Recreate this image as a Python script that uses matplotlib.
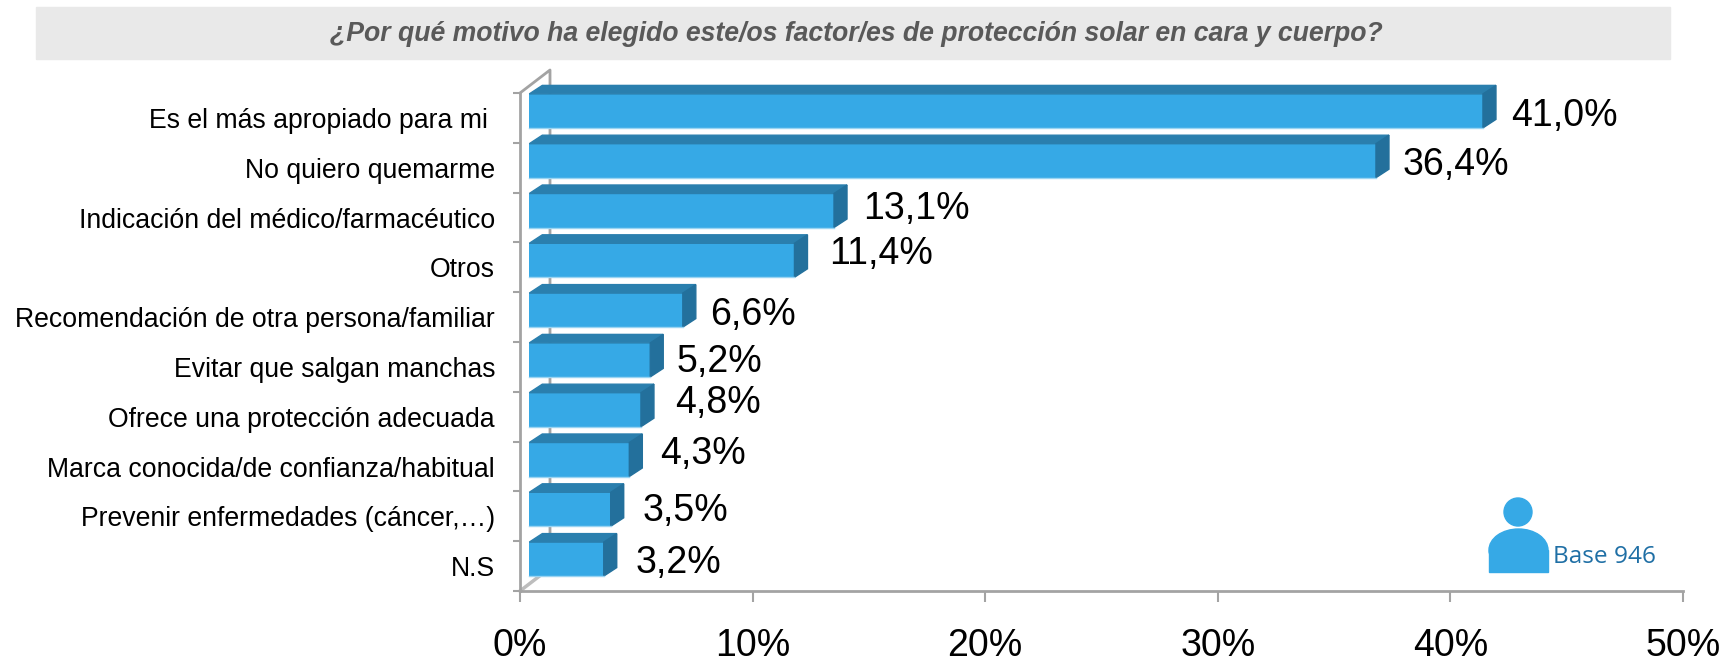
import matplotlib
matplotlib.use('Agg')
import matplotlib.pyplot as plt
from matplotlib.patches import Circle, Polygon, Rectangle, Ellipse

plt.rcParams['font.family'] = ['Liberation Sans', 'DejaVu Sans']

categories = ['Es el más apropiado para mi ', 'No quiero quemarme',
              'Indicación del médico/farmacéutico', 'Otros',
              'Recomendación de otra persona/familiar', 'Evitar que salgan manchas',
              'Ofrece una protección adecuada', 'Marca conocida/de confianza/habitual',
              'Prevenir enfermedades (cáncer,…)', 'N.S']
values = [41.0, 36.4, 13.1, 11.4, 6.6, 5.2, 4.8, 4.3, 3.5, 3.2]
value_labels = ['41,0%', '36,4%', '13,1%', '11,4%', '6,6%', '5,2%', '4,8%', '4,3%', '3,5%', '3,2%']
x_ticks = [0, 10, 20, 30, 40, 50]
x_tick_labels = ['0%', '10%', '20%', '30%', '40%', '50%']

# Label offsets from the bar end, in pixels.
label_dx = [37, 36, 38, 44, 37, 36, 43, 40, 41, 41]
label_dy = [2, 3, 9, 13, 2, 5, 14, 13, 5, 3]

W, H = 1728, 661
BLUE = '#36A9E6'
TOP = '#2A7FAE'
SIDE = '#23709C'
EDGE = '#9AD4F2'
GREY = '#A3A3A3'

fig = plt.figure(figsize=(W / 100, H / 100), dpi=100)
ax = fig.add_axes([520 / W, 1 - 591 / H, (1683 - 520) / W, (591 - 93) / H])
ax.set_xlim(0, 50)
ax.set_ylim(len(values), 0)
ax.patch.set_alpha(0)

# Title band.
fig.patches.append(Rectangle((36 / W, 1 - 59 / H), 1634 / W, 52 / H, transform=fig.transFigure,
                             color='#E9E9E9', zorder=0))
fig.text(856 / W, 1 - 34 / H, '¿Por qué motivo ha elegido este/os factor/es de protección solar en cara y cuerpo?',
         ha='center', va='center', fontsize=19.2, fontweight='bold', fontstyle='italic', color='#595959')

# 3D depth of the bars, in data units.
dx = 9.3 / 23.26
dy = 7 / 49.8
slant_x = 13 / 23.26
slant_y = 8.5 / 49.8
bar_h = 34 / 49.8

# Back wall of the chart.
ax.plot([0, 30 / 23.26, 30 / 23.26], [0, -23 / 49.8, 9.5], color=GREY, lw=2, clip_on=False, zorder=1)
ax.plot([0, 30 / 23.26], [10, 10 - 23 / 49.8], color='#BDBDBD', lw=2.5, clip_on=False, zorder=1)

for i, v in enumerate(values):
    y0 = i + 0.5 - dy - bar_h / 2
    y1 = y0 + bar_h
    ax.barh(y0, v, height=bar_h, left=dx, align='edge', color=BLUE, zorder=3)
    # top face
    ax.add_patch(Polygon([(dx, y0), (dx + slant_x, y0 - slant_y), (dx + v + slant_x, y0 - slant_y), (dx + v, y0)],
                         color=TOP, zorder=3, clip_on=False))
    # side face
    ax.add_patch(Polygon([(dx + v, y0), (dx + v + slant_x, y0 - slant_y), (dx + v + slant_x, y1 - slant_y), (dx + v, y1)],
                         color=SIDE, zorder=3, clip_on=False))
    ax.plot([dx, dx + v], [y1, y1], color=EDGE, lw=1, zorder=4)
    ax.annotate(value_labels[i], xy=(v, i + 0.5), xytext=(label_dx[i], label_dy[i]), textcoords='offset pixels',
                ha='left', va='center', fontsize=27, color='black', zorder=5)

for s in ['top', 'right']:
    ax.spines[s].set_visible(False)
for s in ['left', 'bottom']:
    ax.spines[s].set_color(GREY)
    ax.spines[s].set_linewidth(2)

ax.set_xticks(x_ticks)
ax.set_xticklabels(x_tick_labels, fontsize=27, color='black')
ax.set_yticks(range(len(values) + 1))
ax.set_yticklabels([])
ax.set_yticks([i + 0.5 for i in range(len(values))], minor=True)
ax.set_yticklabels(categories, minor=True, fontsize=19.2, color='black')
ax.tick_params(axis='y', which='minor', length=0, pad=18)
ax.tick_params(axis='y', which='major', length=5, width=1.5, color=GREY)
ax.tick_params(axis='x', length=8, width=1.5, color=GREY, pad=19)

# Base icon, placed in figure pixels.
fig.patches.append(Circle((1518, H - 512), 14, transform=None, color=BLUE))
fig.patches.append(Ellipse((1518.5, H - 550), 59, 42, transform=None, color=BLUE))
fig.patches.append(Rectangle((1489, H - 572), 59, 22, transform=None, color=BLUE))
fig.text(1553 / W, 1 - 557 / H, 'Base 946', ha='left', va='center', fontsize=17.6, family='Open Sans', color='#1F6FA5')

fig.savefig('out.png', dpi=100)
